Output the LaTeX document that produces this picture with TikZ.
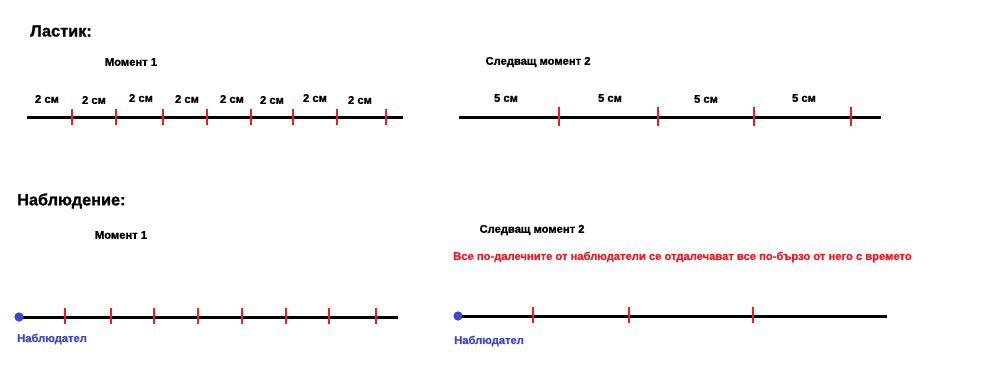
\documentclass[tikz,border=0pt]{standalone}
\usepackage{fontspec}
\setmainfont{Liberation Sans}[BoldFeatures={FakeBold=1.2}]
\definecolor{tickred}{RGB}{237,28,36}
\definecolor{obsblue}{RGB}{63,72,204}
\begin{document}
\begin{tikzpicture}[x=1pt,y=-1pt,
  title/.style={font=\bfseries\fontsize{16.3}{18}\selectfont,anchor=west,inner sep=0pt},
  lbl/.style={font=\bfseries\fontsize{11.2}{13}\selectfont,inner sep=0pt},
  axis/.style={line width=3pt,black},
  tick/.style={line width=1.4pt,tickred},
  dot/.style={circle,fill=obsblue,inner sep=0pt,minimum size=9pt},
  obs/.style={font=\bfseries\fontsize{11.2}{13}\selectfont,text=obsblue,anchor=west,inner sep=0pt}]
\useasboundingbox (0,0) rectangle (1000,388);

% ---------- Ластик ----------
\node[title] (t1) at (30,31) {Ластик:};
\node[lbl] (m1) at (131,62) {Момент 1};
\coordinate (a1) at (27,117);
\coordinate (a2) at (403,117);
\draw[axis] (a1) -- (a2);
\foreach \x in {72,116,163,207,251,293,337,386}
  \draw[tick] (\x,109) -- (\x,125);
\foreach \x/\y [count=\i] in {47/99,94/100,141/98,187/99,232/99,272/100,315/98,360/100}
  \node[lbl] (d\i) at (\x,\y) {2 см};

\node[lbl] (m2) at (538,62) {Следващ момент 2};
\coordinate (b1) at (459,117);
\coordinate (b2) at (881,117);
\draw[axis] (b1) -- (b2);
\foreach \x in {559,658,754,851}
  \draw[tick] (\x,107) -- (\x,126);
\foreach \x/\y [count=\i] in {506/98,610/98,706/99,804/98}
  \node[lbl] (e\i) at (\x,\y) {5 см};

% ---------- Наблюдение ----------
\node[title] (t2) at (17,201) {Наблюдение:};
\node[lbl] (m3) at (121,235) {Момент 1};
\node[dot] (o1) at (19,317) {};
\coordinate (c2) at (398,317);
\draw[axis] (o1.center) -- (c2);
\node[dot] (o1b) at (19,317) {};
\foreach \x in {65,111,154,198,242,286,329,376}
  \draw[tick] (\x,308) -- (\x,324);
\node[obs] (n1) at (17,339) {Наблюдател};

\node[lbl] (m4) at (532,230) {Следващ момент 2};
\node[lbl,text=tickred,anchor=west] (r) at (453,257) {Все по-далечните от наблюдатели се отдалечават все по-бързо от него с времето};
\node[dot] (o2) at (458,316) {};
\coordinate (f2) at (887,316);
\draw[axis] (o2.center) -- (f2);
\node[dot] (o2b) at (458,316) {};
\foreach \x in {533,629,753}
  \draw[tick] (\x,307) -- (\x,323);
\node[obs] (n2) at (454,341) {Наблюдател};
\end{tikzpicture}
\end{document}
